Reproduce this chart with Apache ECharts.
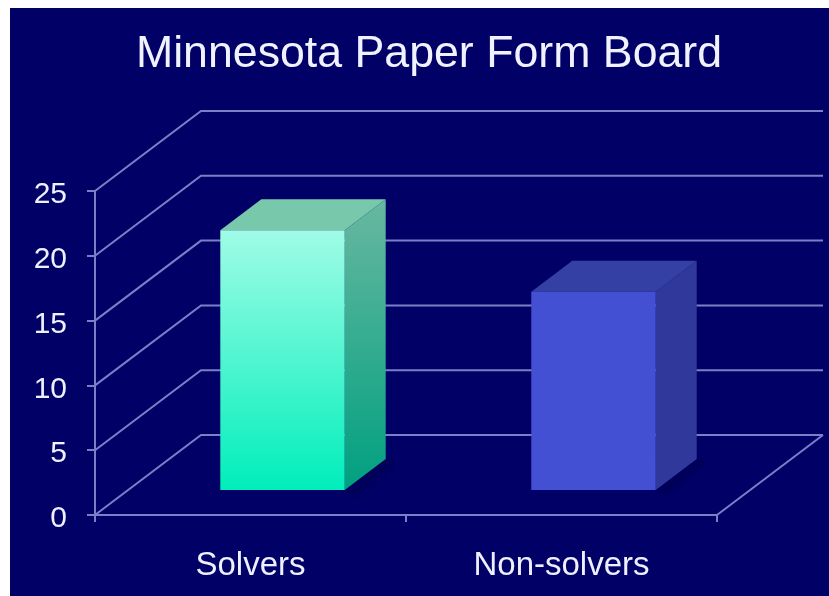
<!DOCTYPE html>
<html>
<head>
<meta charset="utf-8">
<script src="https://cdn.jsdelivr.net/npm/echarts@6/dist/echarts.min.js"></script>
<style>
html,body{margin:0;padding:0;background:#fff;}
#main{width:829px;height:596px;}
</style>
</head>
<body>
<div id="main"></div>
<script>
var categories = ['Solvers', 'Non-solvers'];
var barValues = [20.05, 15.3];
var yTicks = [0, 5, 10, 15, 20, 25];

var lineColor = '#7c7ec8';
var depthX = 106, depthY = -80;      // depth of the floor
var barShiftX = 32, barShiftY = -25; // bars stand in the middle of the floor
var barDepthX = 41, barDepthY = -31;
var wallEnd = 823;

var barColors = [
	{
		front: ['#a0fce6', '#00eebb'],
		side: ['#68b8a0', '#00a080'],
		top: '#78c8ac'
	},
	{
		front: ['#4450d4', '#4450d4'],
		side: ['#30389c', '#30389c'],
		top: '#3440a4'
	}
];

function grad(c) {
	return new echarts.graphic.LinearGradient(0, 0, 0, 1, [
		{offset: 0, color: c[0]},
		{offset: 1, color: c[1]}
	]);
}

// 墙和地板的网格线
function renderWall(params, api) {
	var p = api.coord([0, api.value(0)]);
	var x0 = params.coordSys.x;
	var y = p[1];
	return {
		type: 'polyline',
		shape: {points: [[x0, y], [x0 + depthX, y + depthY], [wallEnd, y + depthY]]},
		style: {stroke: lineColor, lineWidth: 2, fill: null}
	};
}

// 地板右边的斜线
function renderFloorEdge(params, api) {
	var sys = params.coordSys;
	var y = api.coord([0, 0])[1];
	var x = sys.x + sys.width;
	return {
		type: 'line',
		shape: {x1: x, y1: y, x2: x + depthX, y2: y + depthY},
		style: {stroke: lineColor, lineWidth: 2}
	};
}

function renderBar(params, api) {
	var i = api.value(0);
	var base = api.coord([i, 0]);
	var top = api.coord([i, api.value(1)]);
	var w = api.size([1, 0])[0] * 0.4;
	var l = base[0] + barShiftX - w / 2;
	var r = l + w;
	var b = base[1] + barShiftY;
	var t = top[1] + barShiftY;
	var c = barColors[i];
	return {
		type: 'group',
		children: [
			{
				type: 'polygon',
				shape: {points: [[r, b], [r + barDepthX, b + barDepthY], [r + barDepthX + 8, b + barDepthY + 4], [r + 10, b + 5]]},
				style: {fill: '#00005a', shadowColor: '#00005a', shadowBlur: 8}
			},
			{
				type: 'polygon',
				shape: {points: [[r, t], [r + barDepthX, t + barDepthY], [r + barDepthX, b + barDepthY], [r, b]]},
				style: {fill: grad(c.side)}
			},
			{
				type: 'polygon',
				shape: {points: [[l, t], [l + barDepthX, t + barDepthY], [r + barDepthX, t + barDepthY], [r, t]]},
				style: {fill: c.top}
			},
			{
				type: 'rect',
				shape: {x: l, y: t, width: w, height: b - t},
				style: {fill: grad(c.front)}
			}
		]
	};
}

var myChart = echarts.init(document.getElementById('main'));
myChart.setOption({
	animation: false,
	backgroundColor: '#ffffff',
	graphic: [{
		type: 'rect',
		z: -10,
		shape: {x: 10, y: 8, width: 819, height: 588},
		style: {fill: '#000066'}
	}],
	title: {
		text: 'Minnesota Paper Form Board',
		left: 424,
		top: 27,
		textAlign: 'center',
		textStyle: {color: '#f0f2ff', fontFamily: 'Liberation Sans', fontSize: 44.7, fontWeight: 'normal'}
	},
	grid: {left: 95, top: 191, width: 622, height: 324, containLabel: false},
	xAxis: {
		type: 'category',
		data: categories,
		axisLine: {lineStyle: {color: lineColor, width: 2}},
		axisTick: {show: true, length: 7, lineStyle: {color: lineColor, width: 2}},
		axisLabel: {color: '#eef0ff', fontFamily: 'Liberation Sans', fontSize: 33, margin: 34},
		splitLine: {show: false}
	},
	yAxis: {
		type: 'value',
		min: 0,
		max: 25,
		interval: 5,
		axisLine: {show: true, lineStyle: {color: lineColor, width: 2}},
		axisTick: {show: true, length: 8, lineStyle: {color: lineColor, width: 2}},
		axisLabel: {
			margin: 28,
			formatter: '{a|{value}}',
			rich: {
				a: {color: '#eef0ff', fontFamily: 'Liberation Sans', fontSize: 30, padding: [8, 0, 0, 0]}
			}
		},
		splitLine: {show: false}
	},
	series: [
		{
			type: 'custom',
			z: 1,
			clip: false,
			renderItem: renderWall,
			encode: {x: -1, y: 0},
			data: yTicks.map(function (v) { return [v]; })
		},
		{
			type: 'custom',
			z: 1,
			clip: false,
			renderItem: renderFloorEdge,
			encode: {x: -1, y: -1},
			data: [[0]]
		},
		{
			type: 'custom',
			z: 3,
			clip: false,
			renderItem: renderBar,
			encode: {x: 0, y: 1},
			data: barValues.map(function (v, i) { return [i, v]; })
		}
	]
});
</script>
</body>
</html>
